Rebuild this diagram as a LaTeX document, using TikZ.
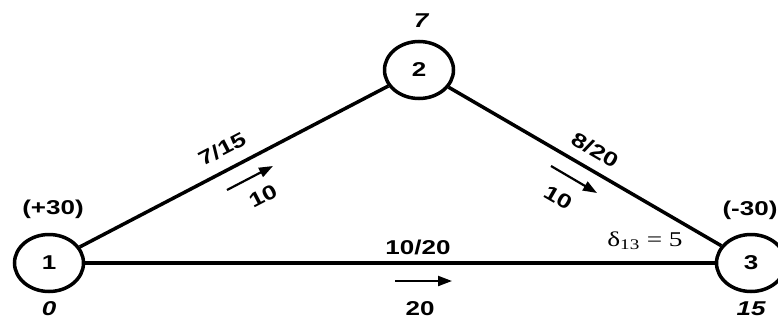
\documentclass[tikz,border=0pt]{standalone}
\usepackage{graphicx}
\usepackage{fontspec}
\setmainfont{Liberation Sans}
\newfontfamily\seriffont{Liberation Serif}
\usetikzlibrary{shapes.geometric}
\usetikzlibrary{arrows.meta}

\newcommand{\widen}[1]{\scalebox{1.3}[1]{#1}}

\tikzset{
	vertex/.style={ellipse, draw, line width=3.5pt, minimum width=69pt, minimum height=57pt, inner sep=0pt, font=\fontsize{20}{22}\selectfont\bfseries},
	arc/.style={line width=3.5pt},
	flow/.style={line width=2.2pt, -{Triangle[length=14pt,width=10pt]}},
	lab/.style={inner sep=0pt, font=\fontsize{20}{22}\selectfont\bfseries},
	pot/.style={inner sep=0pt, font=\fontsize{20}{22}\selectfont\bfseries\itshape},
}

\begin{document}
\begin{tikzpicture}[x=1pt, y=-1pt]
			\useasboundingbox (0,0) rectangle (778,321);
			
			\node[vertex] (1) at (49,263) {\widen{1}};
			\node[vertex] (2) at (419,70) {\widen{2}};
			\node[vertex] (3) at (751,263) {\widen{3}};
			
			% Draw arcs
			\draw[arc] (1) -- (2);
			\draw[arc] (2) -- (3);
			\draw[arc] (1) -- (3);
			
			% Supplies and potentials
			\node[lab] (b1) at (53,209) {\widen{(+30)}};
			\node[lab] (b3) at (750,210) {\widen{(-30)}};
			\node[pot] (u1) at (49,309) {\widen{0}};
			\node[pot] (u2) at (421,21) {\widen{7}};
			\node[pot] (u3) at (751,309) {\widen{15}};
			
			% Arc labels
			\node[lab, rotate=27.5] (c12) at (222,149) {\widen{7/15}};
			\node[lab, rotate=-30] (c23) at (595,150) {\widen{8/20}};
			\node[lab] (c13) at (418,247) {\widen{10/20}};
			\node[lab, rotate=27.5] (x12) at (263,196) {\widen{10}};
			\node[lab, rotate=-30] (x23) at (558,198) {\widen{10}};
			\node[lab] (x13) at (420,309) {\widen{20}};
			\node[inner sep=0pt, font=\fontsize{21}{23}\selectfont\seriffont] (d13) at (645,241) {\widen{δ\textsubscript{13} = 5}};
			
			% Flow arrows
			\coordinate (f12a) at (227,190);
			\coordinate (f12b) at (273,166);
			\coordinate (f23a) at (551,166);
			\coordinate (f23b) at (597,193);
			\coordinate (f13a) at (395,281);
			\coordinate (f13b) at (452,281);
			\draw[flow] (f12a) -- (f12b);
			\draw[flow] (f23a) -- (f23b);
			\draw[flow] (f13a) -- (f13b);
		\end{tikzpicture}
\end{document}
